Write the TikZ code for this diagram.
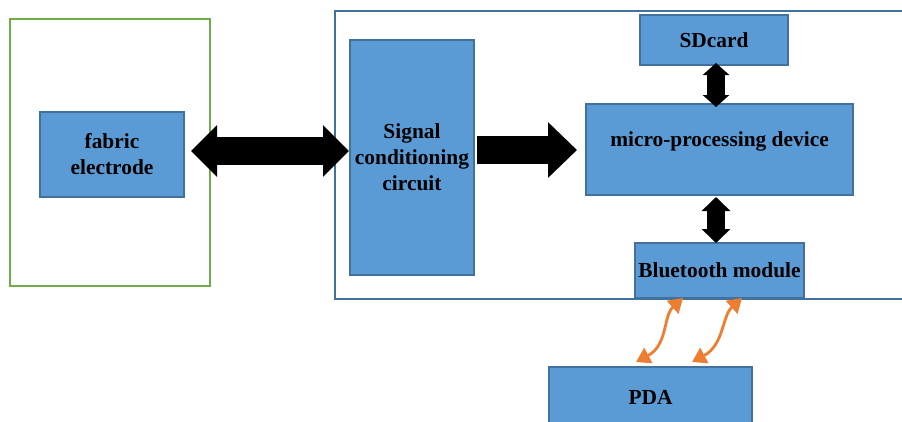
\documentclass[tikz,border=0pt]{standalone}
\usepackage{fontspec}
\setmainfont{Liberation Serif}
\usetikzlibrary{arrows.meta}

\definecolor{boxblue}{HTML}{5B9BD5}
\definecolor{boxedge}{HTML}{41719C}
\definecolor{framegreen}{HTML}{70AD47}
\definecolor{linkorange}{HTML}{ED7D31}

\begin{document}
\begin{tikzpicture}[x=1pt, y=-1pt, font=\bfseries\fontsize{21.4}{26}\selectfont,
  block/.style={draw=boxedge, fill=boxblue, line width=2pt, align=center, inner sep=0pt},
  fatarrow/.style={line width=28pt, black},
  midarrow/.style={line width=18pt, black},
  wave/.style={linkorange, line width=2.8pt, {Triangle[length=14pt,width=17pt]}-{Triangle[length=14pt,width=17pt]}}]

  \useasboundingbox (0,0) rectangle (902,421);

  % frames
  \draw[framegreen, line width=2.5pt] (10,19) rectangle (210,286);
  \draw[boxedge, line width=2pt] (335,11) rectangle (910,299);

  % blocks
  \node[block, minimum width=144, minimum height=85] (fab) at (112,154.5) {fabric\\electrode};
  \node[block, minimum width=124, minimum height=235] (sig) at (412,157.5) {Signal\\conditioning\\circuit};
  \node[block, minimum width=148, minimum height=50] (sd) at (714,40) {SDcard};
  \node[block, minimum width=267, minimum height=91, text depth=21pt] (mpu) at (719.5,149.5) {micro-processing device};
  \node[block, minimum width=169, minimum height=55] (bt) at (719.5,270.5) {Bluetooth module};
  \node[block, minimum width=203, minimum height=60] (pda) at (650.5,397) {PDA};

  % block arrows
  \coordinate (fabOut) at ([yshift=3.5pt]fab.east);
  \draw[fatarrow, {Triangle[length=26pt,width=50pt]}-{Triangle[length=26pt,width=50pt]}, shorten <=6pt]
    (fabOut) -- (fabOut -| sig.west);
  \coordinate (sigOut) at ([yshift=7.5pt]sig.east);
  \draw[fatarrow, -{Triangle[length=29pt,width=54pt]}, shorten <=2pt, shorten >=8pt]
    (sigOut) -- (sigOut -| mpu.west);
  \coordinate (sdOut) at ([xshift=2pt]sd.south);
  \draw[midarrow, {Triangle[length=12pt,width=26pt]}-{Triangle[length=12pt,width=26pt]}, shorten <=-3pt, shorten >=-4pt]
    (sdOut) -- (sdOut |- mpu.north);
  \coordinate (mpuOut) at ([xshift=-3.5pt]mpu.south);
  \draw[midarrow, {Triangle[length=14pt,width=28pt]}-{Triangle[length=14pt,width=28pt]}, shorten <=1pt, shorten >=-1pt]
    (mpuOut) -- (mpuOut |- bt.north);

  % wireless links
  \draw[wave] ([xshift=-36.5pt,yshift=1pt]bt.south) .. controls +(-20,18) and +(32,-17) .. ([xshift=-14.5pt,yshift=4pt]pda.north);
  \draw[wave] ([xshift=22.5pt,yshift=1pt]bt.south) .. controls +(-20,18) and +(32,-17) .. ([xshift=41.5pt,yshift=4pt]pda.north);

\end{tikzpicture}
\end{document}
